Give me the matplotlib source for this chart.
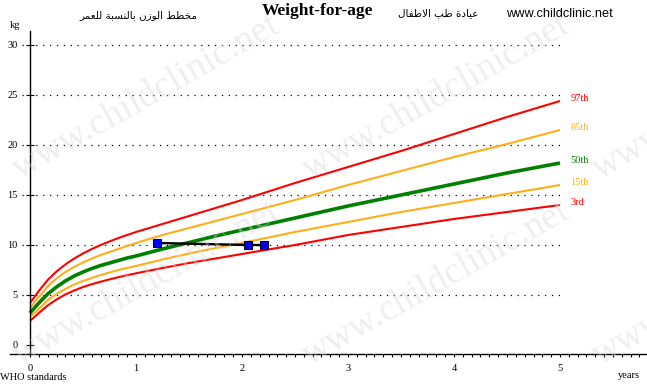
import numpy as np
import matplotlib
matplotlib.use('Agg')
import matplotlib.pyplot as plt

# WHO weight-for-age (girls) percentile curves
age_months = [0, 1, 2, 3, 4, 5, 6, 7, 8, 9, 10, 11, 12, 15, 18, 21, 24, 30, 36, 42, 48, 54, 60]
p97 = [4.2, 5.4, 6.5, 7.35, 8.05, 8.65, 9.15, 9.6, 10.0, 10.35, 10.7, 11.0, 11.3, 12.1, 12.9,
       13.7, 14.5, 16.2, 17.8, 19.4, 21.1, 22.8, 24.4]
p85 = [3.7, 4.8, 5.85, 6.65, 7.3, 7.8, 8.25, 8.65, 9.0, 9.3, 9.6, 9.9, 10.2, 11.0, 11.7,
       12.4, 13.1, 14.5, 16.0, 17.4, 18.8, 20.1, 21.5]
p50 = [3.2, 4.2, 5.1, 5.8, 6.4, 6.9, 7.3, 7.65, 7.95, 8.2, 8.45, 8.7, 8.9, 9.6, 10.25,
       10.9, 11.5, 12.7, 13.9, 15.0, 16.1, 17.2, 18.2]
p15 = [2.8, 3.6, 4.5, 5.1, 5.6, 6.05, 6.4, 6.7, 7.0, 7.25, 7.5, 7.7, 7.9, 8.55, 9.15,
       9.7, 10.2, 11.3, 12.3, 13.3, 14.2, 15.1, 16.0]
p3 = [2.4, 3.2, 3.95, 4.55, 5.05, 5.45, 5.8, 6.08, 6.33, 6.56, 6.78, 6.98, 7.17, 7.7, 8.2,
      8.65, 9.1, 10.0, 11.0, 11.8, 12.6, 13.3, 14.0]

# child measurements (age in years, kg)
child_age = [1.2, 2.06, 2.21]
child_wt = [10.2, 10.0, 10.0]

y_ticks = [0, 5, 10, 15, 20, 25, 30]
grid_levels = [5, 10, 15, 20, 25, 30]
x_ticks = [0, 1, 2, 3, 4, 5]

RED = '#ff0000'
ORANGE = '#ffae1a'
GREEN = '#008000'

ages = np.array(age_months) / 12.0
curves = [
    (p97, '97th', RED, 1.5),
    (p85, '85th', ORANGE, 1.5),
    (p50, '50th', GREEN, 2.6),
    (p15, '15th', ORANGE, 1.5),
    (p3, '3rd', RED, 1.5),
]

# minimal Arabic shaping (presentation forms, visual order)
AR_FORMS = {
    'ا': (0xFE8D, 0xFE8E, None, None),
    'ب': (0xFE8F, 0xFE90, 0xFE91, 0xFE92),
    'ة': (0xFE93, 0xFE94, None, None),
    'ت': (0xFE95, 0xFE96, 0xFE97, 0xFE98),
    'خ': (0xFEA5, 0xFEA6, 0xFEA7, 0xFEA8),
    'د': (0xFEA9, 0xFEAA, None, None),
    'ر': (0xFEAD, 0xFEAE, None, None),
    'ز': (0xFEAF, 0xFEB0, None, None),
    'س': (0xFEB1, 0xFEB2, 0xFEB3, 0xFEB4),
    'ط': (0xFEC1, 0xFEC2, 0xFEC3, 0xFEC4),
    'ع': (0xFEC9, 0xFECA, 0xFECB, 0xFECC),
    'ف': (0xFED1, 0xFED2, 0xFED3, 0xFED4),
    'ل': (0xFEDD, 0xFEDE, 0xFEDF, 0xFEE0),
    'م': (0xFEE1, 0xFEE2, 0xFEE3, 0xFEE4),
    'ن': (0xFEE5, 0xFEE6, 0xFEE7, 0xFEE8),
    'و': (0xFEED, 0xFEEE, None, None),
    'ي': (0xFEF1, 0xFEF2, 0xFEF3, 0xFEF4),
    'لا': (0xFEFB, 0xFEFC, None, None),
}


def shape_ar(text):
    units = []
    i = 0
    while i < len(text):
        if text[i:i + 2] == 'لا':
            units.append('لا')
            i += 2
        else:
            units.append(text[i])
            i += 1
    out = []
    for k, u in enumerate(units):
        if u not in AR_FORMS:
            out.append(u)
            continue
        iso, fin, ini, med = AR_FORMS[u]
        prev = units[k - 1] if k > 0 else None
        nxt = units[k + 1] if k + 1 < len(units) else None
        j_prev = prev in AR_FORMS and AR_FORMS[prev][2] is not None
        j_next = ini is not None and nxt in AR_FORMS
        if j_prev and j_next:
            c = med
        elif j_prev:
            c = fin
        elif j_next:
            c = ini
        else:
            c = iso
        out.append(chr(c))
    return ''.join(reversed(out))


W, H = 647, 387
fig = plt.figure(figsize=(W / 100, H / 100), dpi=100)
fig.patch.set_facecolor('white')

# axes: x from px 10 to 647, y-axis spine at x=0 (px 30), bottom at py 354
ax = fig.add_axes([10 / W, (H - 354) / H, (W - 10) / W, (354 - 30.7) / H])
ax.set_facecolor('none')
ax.set_xlim(-20 / 106, 617 / 106)
ax.set_ylim(-0.9, 31.43)

for s in ['top', 'right']:
    ax.spines[s].set_visible(False)
ax.spines['left'].set_position(('data', 0))
ax.spines['left'].set_linewidth(1.0)
ax.spines['bottom'].set_linewidth(1.0)

serif = 'Liberation Serif'
ax.set_yticks(y_ticks)
ax.set_yticklabels([str(v) for v in y_ticks], fontfamily=serif, fontsize=7.5)
ax.tick_params(axis='y', direction='inout', length=6, width=0.8, pad=6)

ax.set_xticks(x_ticks)
ax.set_xticklabels([str(v) for v in x_ticks], fontfamily=serif, fontsize=7.5)
ax.set_xticks(np.arange(0, 5.83, 1 / 12), minor=True)
ax.tick_params(axis='x', which='both', direction='out', length=2.5, width=0.8, pad=4.5)

ax.hlines(grid_levels, -0.08, 5.0, colors='black', linewidth=0.9,
          linestyles=(0, (1, 4.5)), zorder=1)

for vals, lab, col, lw in curves:
    ax.plot(ages, vals, color=col, linewidth=lw, solid_capstyle='butt', zorder=2)
    ax.text(5.1, vals[-1] + 0.25, lab, color=col, fontfamily=serif,
            fontsize=7.5, va='center', ha='left')

ax.plot(child_age, child_wt, color='black', linewidth=1.7, marker='s',
        markersize=6, markerfacecolor='#0000ff', markeredgecolor='black',
        markeredgewidth=0.8, zorder=4)

# labels around the frame
fig.text(10 / W, 1 - 26 / H, 'kg', fontfamily=serif, fontsize=7.5, va='center', ha='left')
fig.text(0 / W, 1 - 378 / H, 'WHO standards', fontfamily=serif, fontsize=7.5,
         va='center', ha='left')
fig.text(640 / W, 1 - 375 / H, 'years', fontfamily=serif, fontsize=7.5,
         va='center', ha='right')

fig.text(317 / W, 1 - 11 / H, 'Weight-for-age', fontfamily=serif, fontweight='bold',
         fontsize=12.5, va='center', ha='center')
fig.text(138 / W, 1 - 15 / H, shape_ar('مخطط الوزن بالنسبة للعمر'),
         fontfamily='DejaVu Sans', fontsize=7.5, va='center', ha='center')
fig.text(438 / W, 1 - 13 / H, shape_ar('عيادة طب الاطفال'),
         fontfamily='DejaVu Sans', fontsize=7.5, va='center', ha='center')
fig.text(559 / W, 1 - 14 / H, 'www.childclinic.net', fontfamily='Liberation Sans',
         fontsize=9.2, va='center', ha='center')

# watermark
for cx in [146, 436, 726]:
    for cy in [97, 283]:
        fig.text(cx / W, 1 - cy / H, 'www.childclinic.net', fontfamily=serif,
                 fontsize=27, color='#d8d8d8', alpha=0.42, rotation=29.6,
                 rotation_mode='anchor', ha='center', va='center', zorder=5)

fig.savefig('out.png', dpi=100)
